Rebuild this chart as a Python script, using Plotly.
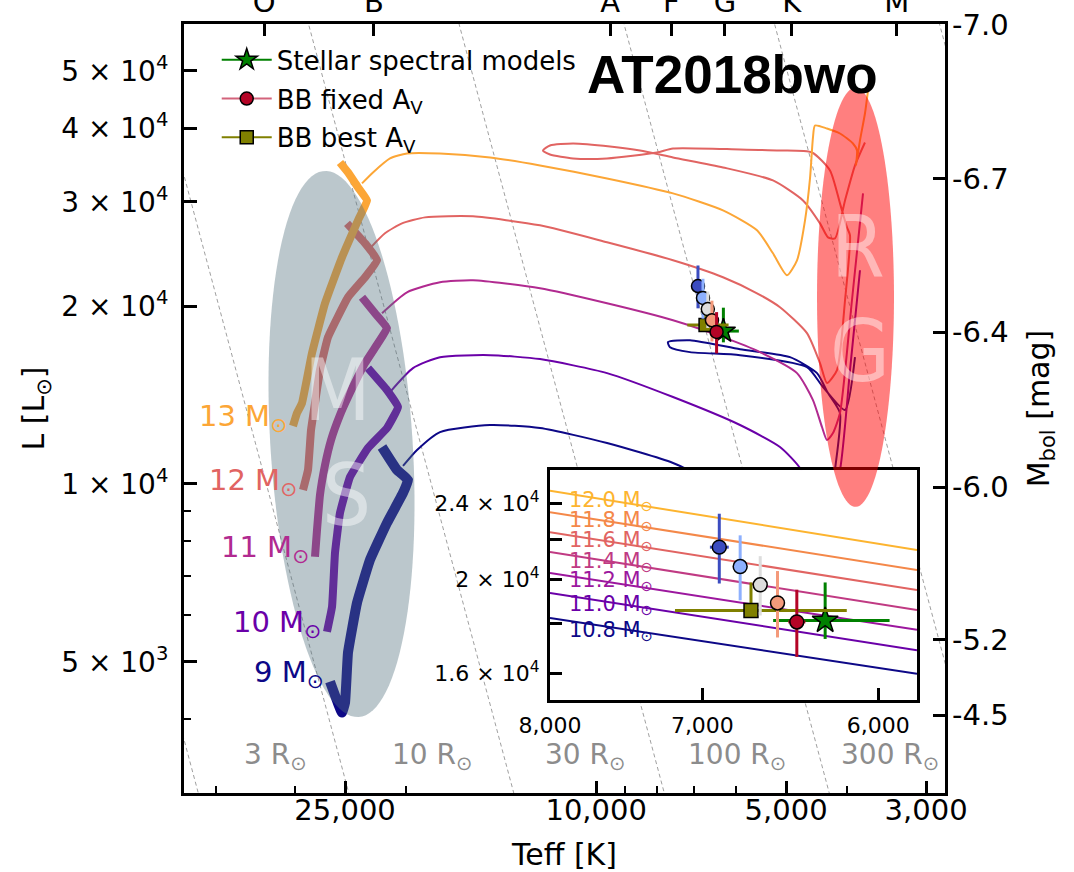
import numpy as np
import plotly.graph_objects as go

# ---------------- evolutionary tracks: log10 Teff [K], log10 L [Lsun] ----------------
# "ms" = core-hydrogen burning part (thick), "post" = post-main-sequence part (thin)
ms9_logt = [4.4218, 4.4028, 4.3980, 4.3933, 4.3790, 4.3584, 4.3315, 4.3061, 4.2982, 4.3156, 4.3394]
ms9_logl = [3.6655, 3.6132, 3.6301, 3.7145, 3.7990, 3.8716, 3.9341, 3.9848, 4.0068, 4.0236, 4.0625]
post9_logt = [4.3061, 4.2839, 4.2475, 4.1682, 4.0890, 3.9828, 3.8782, 3.8037, 3.7087, 3.6326, 3.6215,
              3.6136, 3.6326, 3.6500, 3.6928, 3.7720, 3.8513, 3.8862, 3.8830, 3.8513, 3.7720, 3.6659,
              3.6405, 3.6056, 3.5898]
post9_logl = [4.0304, 4.0574, 4.0878, 4.0997, 4.0946, 4.0693, 4.0355, 3.9983, 3.9561, 3.9307, 4.0236,
              4.1199, 4.1537, 4.1875, 4.2145, 4.2280, 4.2432, 4.2399, 4.2314, 4.2230, 4.2179, 4.1976,
              4.1639, 4.1250, 4.2145]

ms10_logt = [4.4266, 4.4186, 4.4139, 4.4060, 4.3901, 4.3616, 4.3315, 4.3141, 4.3315, 4.3616]
ms10_logl = [3.7500, 3.7922, 3.8834, 3.9510, 4.0118, 4.0608, 4.0946, 4.1301, 4.1588, 4.1959]
post10_logt = [4.3267, 4.2903, 4.2475, 4.1682, 4.0890, 3.9828, 3.8782, 3.7720, 3.7087, 3.6770, 3.6373,
               3.6136, 3.5977, 3.5819]
post10_logl = [4.1554, 4.1959, 4.2145, 4.2179, 4.2112, 4.1875, 4.1470, 4.0997, 4.0625, 4.0270, 3.9392,
               4.0236, 4.1926, 4.3615]

ms11_logt = [4.4456, 4.4424, 4.4377, 4.4297, 4.4202, 4.4060, 4.3933, 4.3663, 4.3458, 4.3315, 4.3505, 4.3711]
ms11_logl = [3.8767, 3.9223, 3.9814, 4.0321, 4.0743, 4.1166, 4.1470, 4.2044, 4.2382, 4.2635, 4.2889, 4.3159]
post11_logt = [4.3394, 4.2998, 4.2475, 4.1952, 4.0890, 3.9828, 3.8782, 3.7990, 3.7404, 3.6817, 3.6564,
               3.6421, 3.6342, 3.6247, 3.6136, 3.5946, 3.5771]
post11_logl = [4.2889, 4.3243, 4.3412, 4.3446, 4.3311, 4.3057, 4.2770, 4.2483, 4.2230, 4.1875, 4.1419,
               4.0963, 4.0743, 4.0862, 4.1199, 4.3108, 4.4916]

ms12_logt = [4.4646, 4.4567, 4.4519, 4.4456, 4.4377, 4.4250, 4.3933, 4.3663, 4.3473, 4.3663, 4.3949]
ms12_logl = [3.9899, 4.0236, 4.0912, 4.1368, 4.1926, 4.2483, 4.3159, 4.3497, 4.3784, 4.4071, 4.4409]
post12_logt = [4.3584, 4.3347, 4.3077, 4.2713, 4.1952, 4.0890, 3.9828, 3.8782, 3.7990, 3.7451, 3.7087,
               3.6659, 3.6453, 3.6342, 3.6183, 3.6056, 3.5977, 3.6025, 3.6136, 3.6294, 3.6580, 3.7087,
               3.7720, 3.8782, 3.9036, 3.9828, 4.0367, 4.0732, 4.0843, 4.0732, 4.0367, 3.9781, 3.9305,
               3.8782, 3.7990, 3.7198, 3.6722, 3.6453, 3.6326, 3.6215, 3.6056, 3.5898, 3.5740]
post12_logl = [4.3987, 4.4240, 4.4409, 4.4510, 4.4527, 4.4375, 4.4088, 4.3784, 4.3497, 4.3226, 4.2990,
               4.2551, 4.2044, 4.1706, 4.1926, 4.3108, 4.4206, 4.4341, 4.4747, 4.5304, 4.5608, 4.5642,
               4.5659, 4.5676, 4.5608, 4.5507, 4.5507, 4.5574, 4.5642, 4.5726, 4.5760, 4.5710, 4.5642,
               4.5524, 4.5355, 4.5135, 4.4797, 4.4409, 4.4172, 4.4155, 4.4797, 4.5389, 4.5777]

ms13_logt = [4.4805, 4.4741, 4.4662, 4.4504, 4.4297, 4.4028, 4.3774, 4.3632, 4.3774, 4.3933, 4.4060]
ms13_logl = [4.0980, 4.1199, 4.1368, 4.2213, 4.3057, 4.3835, 4.4460, 4.4797, 4.5017, 4.5270, 4.5439]
post13_logt = [4.3711, 4.3537, 4.3267, 4.2998, 4.2475, 4.1682, 4.0890, 3.9828, 3.8782, 3.7990, 3.7451,
               3.7198, 3.6976, 3.6817, 3.6690, 3.6611, 3.6564, 3.6532, 3.6342, 3.6136, 3.5930, 3.5866,
               3.5882, 3.5819, 3.5740, 3.5692]
post13_logl = [4.5085, 4.5270, 4.5507, 4.5591, 4.5591, 4.5524, 4.5389, 4.5169, 4.4916, 4.4628, 4.4291,
               4.3902, 4.3530, 4.3784, 4.4460, 4.5169, 4.5862, 4.6064, 4.6014, 4.5929, 4.5760, 4.5642,
               4.5389, 4.5811, 4.6267, 4.6655]

track_masses = [9, 10, 11, 12, 13]
track_colors = ["#0d0887", "#6a00a8", "#b12a90", "#e16462", "#fca636"]
ms_widths = [10, 8, 8, 8, 8]
ms_logt = [ms9_logt, ms10_logt, ms11_logt, ms12_logt, ms13_logt]
ms_logl = [ms9_logl, ms10_logl, ms11_logl, ms12_logl, ms13_logl]
post_logt = [post9_logt, post10_logt, post11_logt, post12_logt, post13_logt]
post_logl = [post9_logl, post10_logl, post11_logl, post12_logl, post13_logl]

# ---------------- fine grid of tracks shown in the zoom panel ----------------
fine_masses = [12.0, 11.8, 11.6, 11.4, 11.2, 11.0, 10.8]
fine_colors = ["#fdb42f", "#f48849", "#e16462", "#c03a83", "#9c179e", "#6a00a8", "#0d0887"]
fine_teff = [8000, 5800]
fine_lum_hot = [24740, 23510, 22410, 21370, 20320, 19380, 18250]
fine_lum_cool = [21470, 20470, 19510, 18600, 17740, 16900, 15970]
fine_label_logl = [4.3807, 4.3599, 4.3392, 4.3173, 4.2976, 4.2727, 4.2457]

# ---------------- progenitor measurements ----------------
# blackbody fits for a sequence of extinction values (last one = fixed A_V)
bb_teff = [6897, 6772, 6654, 6554, 6444]
bb_teff_err = [57, 40, 25, 38, 48]
bb_lum = [21620, 20640, 19760, 18920, 18080]
bb_lum_err = [1800, 1600, 1400, 1500, 1450]
bb_colors = ["#3b4cc0", "#8db0fe", "#dddddd", "#f49a7b", "#b40426"]

# blackbody with best-fit A_V
best_teff, best_teff_hi, best_teff_lo = [6708], [462], [540]
best_lum, best_lum_hi, best_lum_lo = [18580], [1290], [150]

# stellar spectral models
sed_teff, sed_teff_hi, sed_teff_lo = [6286], [293], [345]
sed_lum, sed_lum_hi, sed_lum_lo = [18140], [1730], [780]

# ---------------- axes ----------------
teff_major = [25000, 10000, 5000, 3000]
teff_major_text = ["25,000", "10,000", "5,000", "3,000"]
teff_minor = [40000, 30000, 20000, 9000, 8000, 7000, 6000, 4000]
lum_major = [5000, 10000, 20000, 30000, 40000, 50000]
lum_major_text = ["5 × 10<sup>3</sup>", "1 × 10<sup>4</sup>", "2 × 10<sup>4</sup>",
                  "3 × 10<sup>4</sup>", "4 × 10<sup>4</sup>", "5 × 10<sup>4</sup>"]
lum_minor = [4000, 6000, 7000, 8000, 9000]
spec_teff = [33600, 22500, 9500, 7600, 6250, 4900, 3340]
spec_labels = ["O", "B", "A", "F", "G", "K", "M"]
mbol_tick_lum = [59800, 32880, 18060, 9880, 5450, 4060]
mbol_labels = ["-7.0", "-6.7", "-6.4", "-6.0", "-5.2", "-4.5"]

radii = [1, 3, 10, 30, 100, 300, 1000]
radius_labels = ["3", "10", "30", "100", "300"]
radius_label_logt = [4.5090, 4.2602, 4.0177, 3.7768, 3.5343]
radius_label_logl = 3.5389
T_SUN = 5772.0

TEFF_RANGE = [np.log10(45000), np.log10(2800)]
LUM_RANGE = [np.log10(3000), np.log10(60000)]

fig = go.Figure()

# lines of constant radius, L = R^2 (T/Tsun)^4
t_edges = np.array([2500.0, 50000.0])
for r in radii:
    fig.add_trace(go.Scatter(x=t_edges, y=r ** 2 * (t_edges / T_SUN) ** 4, mode="lines",
                             line=dict(color="#a0a0a0", width=1, dash="4px,3px"),
                             hoverinfo="skip", showlegend=False))

# evolutionary tracks
for i, m in enumerate(track_masses):
    fig.add_trace(go.Scatter(x=10 ** np.array(post_logt[i]), y=10 ** np.array(post_logl[i]),
                             mode="lines",
                             line=dict(color=track_colors[i], width=2, shape="spline", smoothing=0.6),
                             hoverinfo="skip", showlegend=False))
    fig.add_trace(go.Scatter(x=10 ** np.array(ms_logt[i]), y=10 ** np.array(ms_logl[i]),
                             mode="lines",
                             line=dict(color=track_colors[i], width=ms_widths[i], shape="spline", smoothing=0.3),
                             hoverinfo="skip", showlegend=False))


def add_measurements(xa, ya, scale, legend):
    ms = 13 * scale
    eb = 3
    fig.add_trace(go.Scatter(
        x=sed_teff, y=sed_lum, xaxis=xa, yaxis=ya, mode="lines+markers",
        name="Stellar spectral models", showlegend=legend, legendrank=1, legendgroup="sed",
        marker=dict(symbol="star", size=ms * 1.4, color="#008000", line=dict(color="black", width=1.5)),
        line=dict(color="#008000", width=2),
        error_x=dict(type="data", symmetric=False, array=sed_teff_hi, arrayminus=sed_teff_lo,
                     color="#008000", thickness=eb, width=0),
        error_y=dict(type="data", symmetric=False, array=sed_lum_hi, arrayminus=sed_lum_lo,
                     color="#008000", thickness=eb, width=0),
        hoverinfo="skip"))
    fig.add_trace(go.Scatter(
        x=best_teff, y=best_lum, xaxis=xa, yaxis=ya, mode="lines+markers",
        name="BB best A<sub>V</sub>", showlegend=legend, legendrank=3, legendgroup="best",
        marker=dict(symbol="square", size=ms, color="#808000", line=dict(color="black", width=1.5)),
        line=dict(color="#808000", width=2),
        error_x=dict(type="data", symmetric=False, array=best_teff_hi, arrayminus=best_teff_lo,
                     color="#808000", thickness=eb, width=0),
        error_y=dict(type="data", symmetric=False, array=best_lum_hi, arrayminus=best_lum_lo,
                     color="#808000", thickness=eb, width=0),
        hoverinfo="skip"))
    for k in range(len(bb_teff)):
        last = k == len(bb_teff) - 1
        fig.add_trace(go.Scatter(
            x=[bb_teff[k]], y=[bb_lum[k]], xaxis=xa, yaxis=ya, mode="lines+markers",
            name="BB fixed A<sub>V</sub>", showlegend=legend and last, legendrank=2, legendgroup="fixed",
            marker=dict(symbol="circle", size=ms, color=bb_colors[k], line=dict(color="black", width=1.5)),
            line=dict(color="rgba(200,60,90,0.8)", width=2),
            error_x=dict(type="data", array=[bb_teff_err[k]], color=bb_colors[k], thickness=eb, width=0),
            error_y=dict(type="data", array=[bb_lum_err[k]], color=bb_colors[k], thickness=eb, width=0),
            hoverinfo="skip"))


add_measurements("x", "y", 1.0, True)

# zoom panel: fine mass grid and the measurements again
for i, m in enumerate(fine_masses):
    fig.add_trace(go.Scatter(x=fine_teff, y=[fine_lum_hot[i], fine_lum_cool[i]], xaxis="x2", yaxis="y2",
                             mode="lines", line=dict(color=fine_colors[i], width=2),
                             hoverinfo="skip", showlegend=False))
add_measurements("x2", "y2", 1.07, False)

# helper traces so the secondary axes get drawn
fig.add_trace(go.Scatter(x=[5000], y=[10000], xaxis="x3", yaxis="y", mode="markers",
                         marker=dict(opacity=0), hoverinfo="skip", showlegend=False))
fig.add_trace(go.Scatter(x=[5000], y=[10000], xaxis="x", yaxis="y3", mode="markers",
                         marker=dict(opacity=0), hoverinfo="skip", showlegend=False))


# regions: main sequence and red supergiants
def ellipse_path(logt0, logl0, half_t, half_l, shear, n=120):
    th = np.linspace(0, 2 * np.pi, n)
    lt = logt0 + half_t * np.cos(th) + shear * half_l * np.sin(th)
    ll = logl0 + half_l * np.sin(th)
    pts = ["{:.2f},{:.2f}".format(10 ** a, 10 ** b) for a, b in zip(lt, ll)]
    return "M " + " L ".join(pts) + " Z"


shapes = [
    dict(type="path", xref="x", yref="y", layer="above",
         path=ellipse_path(4.4036, 4.0676, 0.1129, 0.462, 0.055),
         fillcolor="rgb(85,115,128)", opacity=0.4, line=dict(width=0)),
    dict(type="path", xref="x", yref="y", layer="above",
         path=ellipse_path(3.5890, 4.3159, 0.0610, 0.3547, 0.0),
         fillcolor="red", opacity=0.5, line=dict(width=0)),
]

annotations = []
FONT = "DejaVu Sans"
for i, m in enumerate(track_masses):
    annotations.append(dict(x=ms_logt[i][0], y=ms_logl[i][0], xref="x", yref="y",
                            text="{} M<sub>⊙</sub>".format(m), showarrow=False,
                            xanchor="right", yanchor="middle", xshift=-4, yshift=8,
                            font=dict(family=FONT, size=29, color=track_colors[i])))
for lab, lt in zip(radius_labels, radius_label_logt):
    annotations.append(dict(x=lt, y=radius_label_logl, xref="x", yref="y",
                            text="{} R<sub>⊙</sub>".format(lab), showarrow=False,
                            xanchor="center", yanchor="middle",
                            font=dict(family=FONT, size=28, color="#8c8c8c")))
big = dict(family="Liberation Sans Narrow, DejaVu Sans Condensed, sans-serif", size=86,
           color="rgba(255,255,255,0.45)")
for txt, lt, ll in [("M", 4.4107, 4.1588), ("S", 4.3949, 3.9814), ("R", 3.5850, 4.4020), ("G", 3.5819, 4.2247)]:
    annotations.append(dict(x=lt, y=ll, xref="x", yref="y", text=txt, showarrow=False,
                            xanchor="center", yanchor="middle", font=big))
for i, m in enumerate(fine_masses):
    annotations.append(dict(x=3.8966, y=fine_label_logl[i], xref="x2", yref="y2",
                            text="{:.1f} M<sub>⊙</sub>".format(m), showarrow=False,
                            xanchor="left", yanchor="middle", yshift=2,
                            font=dict(family=FONT, size=21, color=fine_colors[i])))
annotations.append(dict(x=0.7214, y=0.9337, xref="paper", yref="paper", text="<b>AT2018bwo</b>",
                        showarrow=False, xanchor="center", yanchor="middle",
                        font=dict(family="Liberation Sans, Arial, sans-serif", size=53, color="black")))

tick_common = dict(showgrid=False, zeroline=False, tickcolor="black", linecolor="black", automargin=False)

fig.update_layout(
    width=1074, height=872,
    margin=dict(l=184, r=129, t=24, b=79, autoexpand=False),
    paper_bgcolor="white", plot_bgcolor="white",
    font=dict(family=FONT, size=28, color="black"),
    hovermode=False,
    shapes=shapes, annotations=annotations,
    legend=dict(x=0.043, y=0.984, xanchor="left", yanchor="top", bgcolor="rgba(0,0,0,0)",
                font=dict(family=FONT, size=26), itemwidth=50, tracegroupgap=2),
    xaxis=dict(type="log", range=TEFF_RANGE, domain=[0, 1], anchor="y",
               showline=True, mirror=True, linewidth=3, ticks="inside", ticklen=12, tickwidth=3,
               tickmode="array", tickvals=teff_major, ticktext=teff_major_text,
               tickfont=dict(size=29), ticklabelstandoff=-11,
               minor=dict(tickmode="array", tickvals=teff_minor, ticks="inside", ticklen=7,
                          tickwidth=1.5, tickcolor="black", showgrid=False),
               title=dict(text="Teff [K]", font=dict(size=30), standoff=19), **tick_common),
    yaxis=dict(type="log", range=LUM_RANGE, domain=[0, 1], anchor="x",
               showline=True, mirror=True, linewidth=3, ticks="inside", ticklen=13, tickwidth=3,
               tickmode="array", tickvals=lum_major, ticktext=lum_major_text,
               tickfont=dict(size=28), ticklabelstandoff=7,
               minor=dict(tickmode="array", tickvals=lum_minor, ticks="inside", ticklen=7,
                          tickwidth=1.5, tickcolor="black", showgrid=False),
               title=dict(text="L [L<sub>⊙</sub>]", font=dict(size=30), standoff=8), **tick_common),
    xaxis3=dict(type="log", range=TEFF_RANGE, overlaying="x", side="top", anchor="y",
                showline=False, ticks="inside", ticklen=12, tickwidth=3,
                tickmode="array", tickvals=spec_teff, ticktext=spec_labels,
                tickfont=dict(size=29), ticklabelstandoff=5, **tick_common),
    yaxis3=dict(type="log", range=LUM_RANGE, overlaying="y", side="right", anchor="x",
                showline=False, ticks="inside", ticklen=12, tickwidth=3,
                tickmode="array", tickvals=mbol_tick_lum, ticktext=mbol_labels,
                tickfont=dict(size=29), ticklabelstandoff=6,
                title=dict(text="M<sub>bol</sub> [mag]", font=dict(size=30), standoff=20), **tick_common),
    xaxis2=dict(type="log", range=[np.log10(8000), np.log10(5800)], domain=[0.4809, 0.9632], anchor="y2",
                showline=True, mirror=True, linewidth=3, ticks="inside", ticklen=12, tickwidth=3,
                tickmode="array", tickvals=[8000, 7000, 6000], ticktext=["8,000", "7,000", "6,000"],
                tickfont=dict(size=22), ticklabelstandoff=4, **tick_common),
    yaxis2=dict(type="log", range=[np.log10(15000), np.log10(26000)], domain=[0.1209, 0.4200], anchor="x2",
                showline=True, mirror=True, linewidth=3, ticks="inside", ticklen=12, tickwidth=3,
                tickmode="array", tickvals=[16000, 18000, 20000, 22000, 24000, 26000],
                ticktext=["1.6 × 10<sup>4</sup>", "", "2 × 10<sup>4</sup>", "", "2.4 × 10<sup>4</sup>", ""],
                tickfont=dict(size=22), ticklabelstandoff=3, **tick_common),
)

fig.write_html("out.html")
